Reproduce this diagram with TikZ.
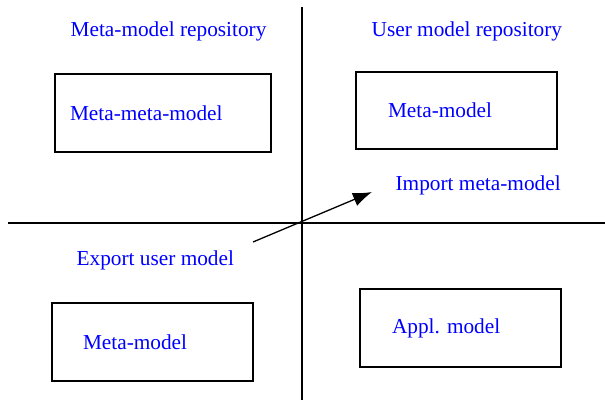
\documentclass[tikz,border=0pt]{standalone}
\usepackage{fontspec}
\newfontfamily\serifblue{LiberationSerif-Regular.ttf}
\usepackage{tikz}
\usetikzlibrary{positioning}
\usetikzlibrary{arrows.meta}
\definecolor{myblue}{RGB}{0, 0, 255}

\begin{document}
\begin{tikzpicture}[x=1pt,y=1pt,line width=1.3pt]
    % estilos de cajas y textos
    \tikzstyle{box}=[draw,rectangle,minimum width=201pt,minimum height=78pt,inner sep=0pt]
    \tikzstyle{txt}=[text=myblue,inner sep=0pt,anchor=west,font=\serifblue\fontsize{21.3}{25}\selectfont]
    \useasboundingbox (0,0) rectangle (605,400);

    % ejes
    \coordinate (v_0) at (302,393);
    \coordinate (v_1) at (302,0);
    \coordinate (h_0) at (8,177);
    \coordinate (h_1) at (605,177);
    \draw (v_0) -- (v_1);
    \draw (h_0) -- (h_1);

    \node[box,minimum width=216pt] (box_1) at (163,287) {};
    \node[box,minimum height=77pt] (box_2) at (456.5,289.5) {};
    \node[box] (box_3) at (152.5,58) {};
    \node[box] (box_4) at (460.5,72) {};

    \node[txt] (t_1) [right=15pt of box_1.west] {Meta-meta-model};
    \node[txt] (t_2) [right=32pt of box_2.west] {Meta-model};
    \node[txt] (t_3) [right=31pt of box_3.west] {Meta-model};
    \node[txt] (t_4) [right=32pt of box_4.west] {Appl. model};

    \node[txt] (r_1) at (70,369) {Meta-model repository};
    \node[txt] (r_2) at (371,369) {User model repository};
    \node[txt] (imp) at (395,215) {Import meta-model};
    \node[txt] (exp) at (76,140) {Export user model};

    % flecha de exportar/importar
    \coordinate (a_0) at (253,158);
    \coordinate (a_1) at (372,208);
    \path[-{Latex[length=19pt,width=14pt]}]
    (a_0) edge (a_1);
\end{tikzpicture}
\end{document}
